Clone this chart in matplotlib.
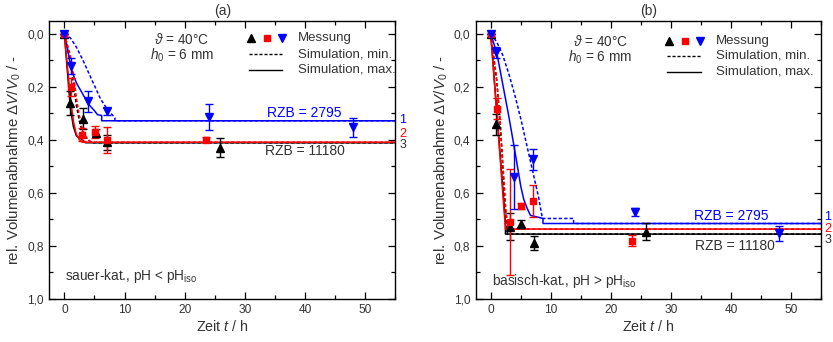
import matplotlib
matplotlib.use("Agg")
import matplotlib.pyplot as plt
from matplotlib.ticker import MultipleLocator, FuncFormatter

plt.rcParams["font.family"] = ["Liberation Sans", "DejaVu Sans"]
plt.rcParams["mathtext.fontset"] = "custom"
plt.rcParams["mathtext.rm"] = "Liberation Sans"
plt.rcParams["mathtext.it"] = "Liberation Sans:italic"
plt.rcParams["mathtext.bf"] = "Liberation Sans:bold"

TXT = "#333333"
BLUE = "#0000ff"
RED = "#ff0000"
BLACK = "#000000"

# ---------------- (a) acid-catalysed ----------------
a_blue_t = [0, 1.05, 4.0, 7.1, 24.0, 48.0]
a_blue_v = [0, 0.122, 0.254, 0.292, 0.313, 0.353]
a_blue_e = [0, 0.03, 0.04, 0.014, 0.048, 0.037]
a_red_t = [0, 1.1, 3.0, 5.1, 7.1, 23.6]
a_red_v = [0, 0.20, 0.38, 0.37, 0.40, 0.40]
a_red_e = [0, 0.035, 0.025, 0.022, 0.05, 0.01]
a_blk_t = [0, 0.95, 3.1, 5.2, 7.15, 25.8]
a_blk_v = [0, 0.26, 0.32, 0.375, 0.41, 0.43]
a_blk_e = [0, 0.045, 0.04, 0.015, 0.03, 0.036]

a_blue_max_t = [0, 0.5, 1, 1.5, 2, 3, 4, 5, 5.5, 6.2, 6.2, 55]
a_blue_max_v = [0, 0.05, 0.12, 0.155, 0.185, 0.225, 0.265, 0.29, 0.305, 0.308, 0.328, 0.328]
a_blue_min_t = [0, 1, 2, 3, 4, 5, 6, 7, 8.4, 8.4, 55]
a_blue_min_v = [0, 0.015, 0.05, 0.095, 0.145, 0.195, 0.245, 0.28, 0.317, 0.328, 0.328]
a_red_max_t = [0, 0.5, 1, 1.5, 2, 2.5, 3, 55]
a_red_max_v = [0, 0.12, 0.24, 0.33, 0.38, 0.40, 0.409, 0.409]
a_red_min_t = [0, 1, 1.5, 2, 2.5, 3, 3.5, 4, 4.5, 55]
a_red_min_v = [0, 0.08, 0.15, 0.24, 0.31, 0.36, 0.385, 0.40, 0.409, 0.409]
a_blk_max_t = [0, 0.5, 1, 1.5, 2, 3, 3.5, 55]
a_blk_max_v = [0, 0.14, 0.28, 0.35, 0.385, 0.40, 0.411, 0.411]
a_blk_min_t = [0, 1, 1.5, 2, 2.5, 3, 3.5, 4.5, 55]
a_blk_min_v = [0, 0.11, 0.19, 0.27, 0.33, 0.37, 0.39, 0.411, 0.411]

# ---------------- (b) base-catalysed ----------------
b_blue_t = [0, 0.94, 3.94, 7.1, 24.0, 48.0]
b_blue_v = [0, 0.07, 0.54, 0.473, 0.672, 0.753]
b_blue_e = [0, 0.02, 0.12, 0.04, 0.015, 0.028]
b_red_t = [0, 1.05, 3.16, 5.0, 7.0, 23.6]
b_red_v = [0, 0.282, 0.712, 0.650, 0.631, 0.781]
b_red_e = [0, 0.04, 0.2, 0.01, 0.06, 0.02]
b_blk_t = [0, 0.94, 3.16, 5.1, 7.2, 25.8]
b_blk_v = [0, 0.341, 0.728, 0.718, 0.79, 0.747]
b_blk_e = [0, 0.04, 0.05, 0.015, 0.025, 0.032]

b_blue_max_t = [0, 1, 2, 3, 4, 5, 5.5, 6, 6.6, 8.7, 8.7, 55]
b_blue_max_v = [0, 0.07, 0.19, 0.31, 0.44, 0.575, 0.625, 0.655, 0.685, 0.697, 0.716, 0.716]
b_blue_min_t = [0, 1, 2, 3, 4, 5, 6, 7, 8, 8.6, 13.8, 13.8, 55]
b_blue_min_v = [0, 0.03, 0.08, 0.15, 0.23, 0.32, 0.42, 0.52, 0.62, 0.697, 0.697, 0.716, 0.716]
b_red_max_t = [0, 1, 2, 2.45, 55]
b_red_max_v = [0, 0.30, 0.60, 0.737, 0.737]
b_red_min_t = [0, 1, 1.6, 2, 2.5, 2.9, 55]
b_red_min_v = [0, 0.17, 0.34, 0.48, 0.66, 0.737, 0.737]
b_blk_max_t = [0, 1, 2, 2.45, 2.45, 55]
b_blk_max_v = [0, 0.29, 0.58, 0.71, 0.756, 0.756]
b_blk_min_t = [0, 1, 1.6, 2, 2.5, 2.8, 55]
b_blk_min_v = [0, 0.18, 0.35, 0.50, 0.68, 0.756, 0.756]

xticks = [0, 10, 20, 30, 40, 50]
yticks = [0.0, 0.2, 0.4, 0.6, 0.8, 1.0]

DASH = (0, (2.2, 1.4))

fig = plt.figure(figsize=(8.33, 3.42), dpi=100)
ax_a = fig.add_axes([0.0592, 0.1266, 0.4154, 0.8129])
ax_b = fig.add_axes([0.5711, 0.1266, 0.4145, 0.8129])


def comma(v, pos):
    return f"{v:.1f}".replace(".", ",")


def sims(ax, series):
    for t, v, c, ls in series:
        ax.plot(t, v, color=c, lw=1.1, ls=ls, zorder=2)


def meas(ax, t, v, e, c, marker, ms):
    ax.errorbar(t, v, yerr=e, fmt=marker, color=c, ms=ms, elinewidth=1.0,
                capsize=2.8, capthick=1.0, zorder=4, mec=c, mfc=c)


def frame(ax, title):
    ax.set_xlim(-2.5, 55)
    ax.set_ylim(1.0, -0.05)
    ax.set_xticks(xticks)
    ax.set_yticks(yticks)
    ax.xaxis.set_minor_locator(MultipleLocator(5))
    ax.yaxis.set_minor_locator(MultipleLocator(0.1))
    ax.yaxis.set_major_formatter(FuncFormatter(comma))
    ax.tick_params(which="both", direction="in", top=True, right=True,
                   labelsize=8.6, labelcolor=TXT, width=0.9)
    ax.tick_params(which="major", length=5, pad=4)
    ax.tick_params(which="minor", length=3)
    for s in ax.spines.values():
        s.set_linewidth(1.0)
    ax.set_xlabel(r"Zeit $t$ / h", fontsize=10.3, color=TXT, labelpad=2)
    ax.set_ylabel(r"rel. Volumenabnahme $\Delta V/V_0$ / -", fontsize=10.8,
                  color=TXT, labelpad=3)
    ax.set_title(title, fontsize=10, color=TXT, pad=4)


def legend(ax, mx, my, tx, lx0, lx1, ly_min, ly_max):
    tr = ax.transAxes
    ax.plot([mx[0]], [my], marker="^", color=BLACK, ms=6, transform=tr, clip_on=False)
    ax.plot([mx[1]], [my], marker="s", color=RED, ms=5, transform=tr, clip_on=False)
    ax.plot([mx[2]], [my], marker="v", color=BLUE, ms=6, transform=tr, clip_on=False)
    ax.text(tx, my, "Messung", transform=tr, fontsize=9.5, color=TXT, va="center")
    ax.plot([lx0, lx1], [ly_min] * 2, color=BLACK, lw=1.0, ls=DASH, transform=tr)
    ax.plot([lx0, lx1], [ly_max] * 2, color=BLACK, lw=1.0, transform=tr)
    ax.text(tx, ly_min, "Simulation, min.", transform=tr, fontsize=9.5, color=TXT, va="center")
    ax.text(tx, ly_max, "Simulation, max.", transform=tr, fontsize=9.5, color=TXT, va="center")


def side_numbers(ax, xf, ys):
    tr = ax.get_yaxis_transform()
    for lab, y, c in zip(["1", "2", "3"], ys, [BLUE, RED, TXT]):
        ax.text(xf, y, lab, transform=tr, color=c, fontsize=9, va="baseline",
                ha="left", clip_on=False)


# ---- panel (a)
frame(ax_a, "(a)")
sims(ax_a, [
    (a_blk_min_t, a_blk_min_v, BLACK, DASH),
    (a_blk_max_t, a_blk_max_v, BLACK, "-"),
    (a_blue_max_t, a_blue_max_v, BLUE, "-"),
    (a_blue_min_t, a_blue_min_v, BLUE, DASH),
    (a_red_min_t, a_red_min_v, RED, DASH),
    (a_red_max_t, a_red_max_v, RED, "-"),
])
meas(ax_a, a_blk_t, a_blk_v, a_blk_e, BLACK, "^", 6)
meas(ax_a, a_red_t, a_red_v, a_red_e, RED, "s", 5)
meas(ax_a, a_blue_t, a_blue_v, a_blue_e, BLUE, "v", 6)
ax_a.text(0.383, 0.933, r"$\vartheta$ = 40°C", transform=ax_a.transAxes,
          fontsize=9.8, color=TXT, ha="center", va="center")
ax_a.text(0.383, 0.874, r"$h_0$ = 6 mm", transform=ax_a.transAxes,
          fontsize=9.8, color=TXT, ha="center", va="center")
ax_a.text(0.045, 0.081, r"sauer-kat., pH < pH$_{\mathrm{iso}}$", transform=ax_a.transAxes,
          fontsize=9.8, color=TXT, ha="left", va="center")
ax_a.text(39.9, 0.315, "RZB = 2795", color=BLUE, fontsize=10, ha="center", va="baseline")
ax_a.text(40.0, 0.459, "RZB = 11180", color=TXT, fontsize=10, ha="center", va="baseline")
legend(ax_a, [0.582, 0.628, 0.673], 0.937, 0.718, 0.578, 0.672, 0.879, 0.823)
side_numbers(ax_a, 1.012, [0.335, 0.390, 0.431])

# ---- panel (b)
frame(ax_b, "(b)")
sims(ax_b, [
    (b_blk_max_t, b_blk_max_v, BLACK, "-"),
    (b_blk_min_t, b_blk_min_v, BLACK, DASH),
    (b_blue_max_t, b_blue_max_v, BLUE, "-"),
    (b_blue_min_t, b_blue_min_v, BLUE, DASH),
    (b_red_max_t, b_red_max_v, RED, "-"),
    (b_red_min_t, b_red_min_v, RED, DASH),
])
meas(ax_b, b_blk_t, b_blk_v, b_blk_e, BLACK, "^", 6)
meas(ax_b, b_red_t, b_red_v, b_red_e, RED, "s", 5)
meas(ax_b, b_blue_t, b_blue_v, b_blue_e, BLUE, "v", 6)
ax_b.text(0.36, 0.924, r"$\vartheta$ = 40°C", transform=ax_b.transAxes,
          fontsize=9.8, color=TXT, ha="center", va="center")
ax_b.text(0.36, 0.868, r"$h_0$ = 6 mm", transform=ax_b.transAxes,
          fontsize=9.8, color=TXT, ha="center", va="center")
ax_b.text(0.046, 0.064, r"basisch-kat., pH > pH$_{\mathrm{iso}}$", transform=ax_b.transAxes,
          fontsize=9.8, color=TXT, ha="left", va="center")
ax_b.text(40.0, 0.703, "RZB = 2795", color=BLUE, fontsize=10, ha="center", va="baseline")
ax_b.text(40.7, 0.816, "RZB = 11180", color=TXT, fontsize=10, ha="center", va="baseline")
legend(ax_b, [0.561, 0.606, 0.649], 0.928, 0.695, 0.553, 0.652, 0.874, 0.817)
side_numbers(ax_b, 1.01, [0.704, 0.747, 0.790])

fig.savefig("out.png", dpi=100)
